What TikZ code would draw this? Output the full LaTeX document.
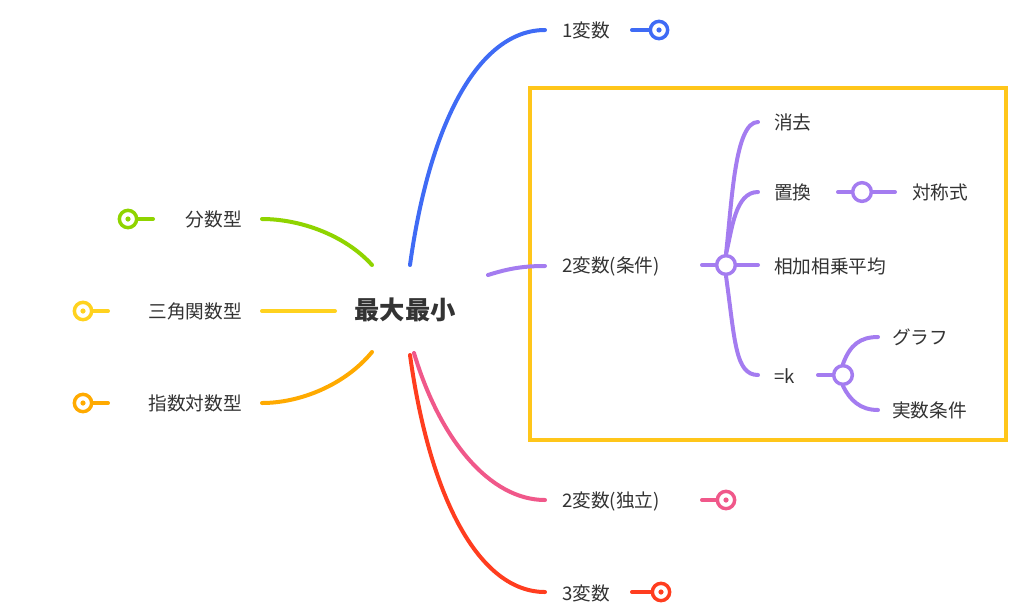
\documentclass[tikz,border=0pt]{standalone}
\usepackage{fontspec}
\newfontfamily\jp{Noto Sans CJK JP}
\definecolor{cblue}{HTML}{3F6BF5}
\definecolor{cpur}{HTML}{A47CF0}
\definecolor{cpink}{HTML}{F0588A}
\definecolor{cred}{HTML}{FF3D1F}
\definecolor{cgreen}{HTML}{8FD400}
\definecolor{cyel}{HTML}{FFD21F}
\definecolor{corg}{HTML}{FFAA00}
\definecolor{cbox}{HTML}{FFC61A}
\definecolor{ctxt}{HTML}{333333}
\begin{document}
\begin{tikzpicture}[x=0.75pt,y=-0.75pt,
  lbl/.style={font=\jp\fontsize{14}{16}\selectfont, text=ctxt, inner sep=0pt},
  br/.style={line width=3pt, line cap=round},
  dotc/.style={circle, draw=#1, line width=2.6pt, fill=white, minimum size=13pt, inner sep=0pt},
  hol/.style={circle, draw=#1, line width=2.6pt, fill=white, minimum size=14pt, inner sep=0pt}]
\useasboundingbox (0,0) rectangle (1024,615);
\node[font=\jp\bfseries\fontsize{19}{22}\selectfont, text=ctxt] (c) at (405,310) {最大最小};
\draw[cbox, line width=2.4pt] (530,88) rectangle (1006,440);
% blue
\node[lbl, anchor=west] (v1) at (562,30) {1変数};
\node[dotc=cblue] (d1) at (659,30) {};
\fill[cblue] (d1) circle (2.6);
\draw[br, cblue] (410,265) .. controls (430,120) and (480,30) .. (545,30);
\draw[br, cblue] (632,30) -- (d1.west);
% purple
\node[lbl, anchor=west] (v2) at (562,266) {2変数(条件)};
\node[hol=cpur] (h) at (726,265) {};
\draw[br, cpur] (488,275) .. controls (510,268) and (525,266) .. (545,266);
\draw[br, cpur] (702,265) -- (h.west);
\node[lbl, anchor=west] (a1) at (774,122) {消去};
\node[lbl, anchor=west] (a2) at (774,192) {置換};
\node[lbl, anchor=west] (a3) at (774,266) {相加相乗平均};
\node[lbl, anchor=west] (a4) at (774,376) {=k};
\draw[br, cpur] (h.north) .. controls (732,200) and (735,122) .. (758,122);
\draw[br, cpur] (h.north) .. controls (732,230) and (735,192) .. (758,192);
\draw[br, cpur] (h.east) -- (758,265);
\draw[br, cpur] (h.south) .. controls (735,340) and (735,375) .. (758,375);
\node[hol=cpur] (h2) at (862,192) {};
\draw[br, cpur] (838,192) -- (h2.west);
\draw[br, cpur] (h2.east) -- (895,192);
\node[lbl, anchor=west] (a5) at (912,192) {対称式};
\node[hol=cpur] (h3) at (843,375) {};
\draw[br, cpur] (818,375) -- (h3.west);
\node[lbl, anchor=west] (b1) at (892,337) {グラフ};
\node[lbl, anchor=west] (b2) at (892,410) {実数条件};
\draw[br, cpur] (h3.north) .. controls (850,345) and (860,337) .. (878,337);
\draw[br, cpur] (h3.south) .. controls (850,400) and (860,410) .. (878,410);
% pink
\node[lbl, anchor=west] (v3) at (562,501) {2変数(独立)};
\node[dotc=cpink] (d3) at (726,500) {};
\fill[cpink] (d3) circle (2.6);
\draw[br, cpink] (414,353) .. controls (440,440) and (490,500) .. (545,500);
\draw[br, cpink] (702,500) -- (d3.west);
% red
\node[lbl, anchor=west] (v4) at (562,593) {3変数};
\node[dotc=cred] (d4) at (661,592) {};
\fill[cred] (d4) circle (2.6);
\draw[br, cred] (410,355) .. controls (430,500) and (480,592) .. (545,592);
\draw[br, cred] (632,592) -- (d4.west);
% left
\node[lbl, anchor=east] (l1) at (242,219) {分数型};
\node[dotc=cgreen] (e1) at (128,219) {};
\fill[cgreen] (e1) circle (2.6);
\draw[br, cgreen] (372,265) .. controls (345,235) and (300,219) .. (262,219);
\draw[br, cgreen] (e1.east) -- (153,219);
\node[lbl, anchor=east] (l2) at (242,311) {三角関数型};
\node[dotc=cyel] (e2) at (83,311) {};
\fill[cyel] (e2) circle (2.6);
\draw[br, cyel] (335,311) -- (262,311);
\draw[br, cyel] (e2.east) -- (108,311);
\node[lbl, anchor=east] (l3) at (242,403) {指数対数型};
\node[dotc=corg] (e3) at (83,403) {};
\fill[corg] (e3) circle (2.6);
\draw[br, corg] (372,352) .. controls (345,385) and (300,403) .. (262,403);
\draw[br, corg] (e3.east) -- (108,403);
\end{tikzpicture}
\end{document}
